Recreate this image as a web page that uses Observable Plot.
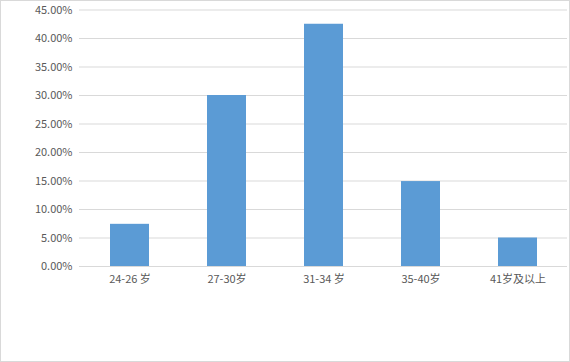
<!DOCTYPE html>
<html>
<head>
<meta charset="utf-8">
<script src="https://cdn.jsdelivr.net/npm/d3@7"></script>
<script src="https://cdn.jsdelivr.net/npm/@observablehq/plot@0.6"></script>
<style>
  html, body { margin: 0; padding: 0; background: #fff; }
  #chart { width: 570px; height: 362px; position: relative; }
  #chart svg { display: block; outline: 1px solid #d9d9d9; outline-offset: -1px; }
</style>
</head>
<body>
<div id="chart"></div>
<script>
const categories = ["24-26 岁", "27-30岁", "31-34 岁", "35-40岁", "41岁及以上"];
const shares = [0.074, 0.300, 0.425, 0.149, 0.050];
const yTicks = [0, 0.05, 0.10, 0.15, 0.20, 0.25, 0.30, 0.35, 0.40, 0.45];

const data = categories.map((c, i) => ({category: c, value: shares[i]}));
const fmt = d3.format(".2%");

const chart = Plot.plot({
  width: 570,
  height: 362,
  marginLeft: 79,
  marginRight: 3,
  marginTop: 9.5,
  marginBottom: 96,
  style: {fontFamily: "'Noto Sans CJK SC', 'Noto Sans', sans-serif", fontSize: "11px", color: "#595959", background: "#fff"},
  x: {domain: categories, paddingInner: 0.6, paddingOuter: 0.3, label: null},
  y: {domain: [0, 0.45], label: null},
  marks: [
    Plot.ruleY(yTicks, {stroke: "#d9d9d9", strokeWidth: 1}),
    Plot.barY(data, {x: "category", y: "value", fill: "#5b9bd5"}),
    Plot.axisY(yTicks, {tickSize: 0, tickPadding: 7, tickFormat: fmt, fill: "#595959"}),
    Plot.axisX({tickSize: 0, tickPadding: 9, fill: "#595959"})
  ]
});
document.getElementById("chart").appendChild(chart);
</script>
</body>
</html>
